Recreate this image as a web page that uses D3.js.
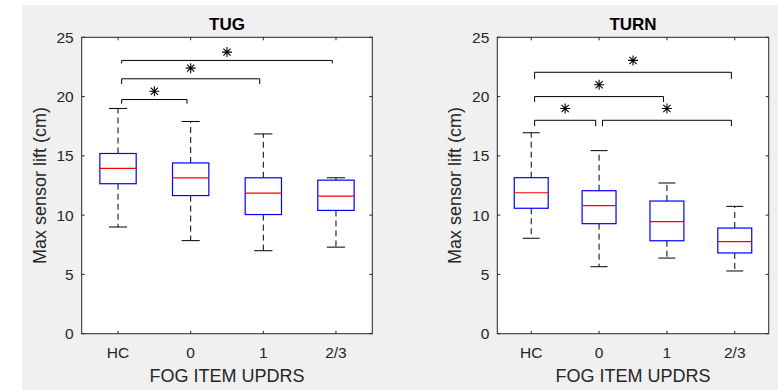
<!DOCTYPE html>
<html>
<head>
<meta charset="utf-8">
<script src="https://cdn.jsdelivr.net/npm/d3@7"></script>
<style>
	body { margin: 0; background: #fff; }
	svg { display: block; font-family: "Liberation Sans", Arial, sans-serif; }
</style>
</head>
<body>
<div id="chart"></div>
<script>

// categories and tick labels
var categories = ["HC", "0", "1", "2/3"];
var yTicks = [0, 5, 10, 15, 20, 25];

// TUG boxes
var tugLow = [9.0, 7.85, 7.0, 7.3];
var tugQ1 = [12.65, 11.65, 10.05, 10.4];
var tugMedian = [13.95, 13.15, 11.85, 11.6];
var tugQ3 = [15.2, 14.4, 13.15, 12.95];
var tugHigh = [19.0, 17.9, 16.85, 13.15];

// TUG significance brackets
var tugPairs = [[0, 1], [0, 2], [0, 3]];
var tugBarLevel = [19.75, 21.5, 23.05];
var tugBarEnd = [19.4, 21.05, 22.8];
var tugStarLevel = [20.45, 22.4, 23.75];

// TURN boxes
var turnLow = [8.05, 5.65, 6.38, 5.29];
var turnQ1 = [10.58, 9.28, 7.84, 6.81];
var turnMedian = [11.89, 10.8, 9.45, 7.76];
var turnQ3 = [13.16, 12.06, 11.19, 8.91];
var turnHigh = [16.95, 15.44, 12.71, 10.74];

// TURN significance brackets
var turnPairs = [[0, 3], [0, 2], [0, 1], [1, 3]];
var turnBarLevel = [22.05, 20.0, 18.0, 18.0];
var turnBarEnd = [21.5, 19.55, 17.5, 17.5];
var turnStarLevel = [23.05, 21.0, 19.0, 19.0];

const width = 778;
const height = 390;
const textColor = "#262626";

const svg = d3.select("#chart")
	.append("svg")
		.attr("width", width)
		.attr("height", height);

// grey figure background
svg.append("rect")
	.attr("x", 22)
	.attr("y", 5)
	.attr("width", width - 22)
	.attr("height", height - 5)
	.attr("fill", "#f0f0f0");

function drawPanel(opt){
	const top = 37.3, bottom = 333.7;
	const left = opt.left, right = opt.right;

	const xScale = d3.scaleLinear().domain([0.5, 4.5]).range([left, right]);
	const yScale = d3.scaleLinear().domain([0, 25]).range([bottom, top]);
	const g = svg.append("g");

	// plot area
	g.append("rect")
		.attr("x", left).attr("y", top)
		.attr("width", right - left).attr("height", bottom - top)
		.attr("fill", "#fff");

	// boxes
	const rows = categories.map(function(c, i){
		return {pos: i + 1, low: opt.low[i], q1: opt.q1[i], med: opt.median[i], q3: opt.q3[i], high: opt.high[i]};
	});
	const boxes = g.selectAll(".box").data(rows).enter().append("g");
	const halfBox = 0.25, halfCap = 0.125;

	// whiskers (dashed)
	boxes.append("line")
		.attr("x1", d => xScale(d.pos)).attr("x2", d => xScale(d.pos))
		.attr("y1", d => yScale(d.q3)).attr("y2", d => yScale(d.high))
		.attr("stroke", "#000").attr("stroke-dasharray", "6,4");
	boxes.append("line")
		.attr("x1", d => xScale(d.pos)).attr("x2", d => xScale(d.pos))
		.attr("y1", d => yScale(d.q1)).attr("y2", d => yScale(d.low))
		.attr("stroke", "#000").attr("stroke-dasharray", "6,4");
	// caps
	boxes.append("line")
		.attr("x1", d => xScale(d.pos - halfCap)).attr("x2", d => xScale(d.pos + halfCap))
		.attr("y1", d => yScale(d.high)).attr("y2", d => yScale(d.high))
		.attr("stroke", "#000");
	boxes.append("line")
		.attr("x1", d => xScale(d.pos - halfCap)).attr("x2", d => xScale(d.pos + halfCap))
		.attr("y1", d => yScale(d.low)).attr("y2", d => yScale(d.low))
		.attr("stroke", "#000");
	// box
	boxes.append("rect")
		.attr("x", d => xScale(d.pos - halfBox))
		.attr("y", d => yScale(d.q3))
		.attr("width", d => xScale(d.pos + halfBox) - xScale(d.pos - halfBox))
		.attr("height", d => yScale(d.q1) - yScale(d.q3))
		.attr("fill", "none").attr("stroke", "#0000ff").attr("stroke-width", 1.2);
	// median
	boxes.append("line")
		.attr("x1", d => xScale(d.pos - halfBox)).attr("x2", d => xScale(d.pos + halfBox))
		.attr("y1", d => yScale(d.med)).attr("y2", d => yScale(d.med))
		.attr("stroke", "#ff0000").attr("stroke-width", 1.2);

	// significance brackets
	const inset = 0.05;
	opt.pairs.forEach(function(p, i){
		const xa = xScale(p[0] + 1 + inset), xb = xScale(p[1] + 1 - inset);
		const yBar = yScale(opt.barLevel[i]), yEnd = yScale(opt.barEnd[i]);
		g.append("path")
			.attr("d", "M" + xa + "," + yEnd + "V" + yBar + "H" + xb + "V" + yEnd)
			.attr("fill", "none").attr("stroke", "#000").attr("stroke-width", 1);
		// asterisk marker
		const cx = (xa + xb) / 2, cy = yScale(opt.starLevel[i]);
		const r = 5, d = 3.6;
		g.append("path")
			.attr("d", "M" + (cx - r) + "," + cy + "H" + (cx + r) +
				"M" + cx + "," + (cy - r) + "V" + (cy + r) +
				"M" + (cx - d) + "," + (cy - d) + "L" + (cx + d) + "," + (cy + d) +
				"M" + (cx - d) + "," + (cy + d) + "L" + (cx + d) + "," + (cy - d))
			.attr("stroke", "#000").attr("stroke-width", 1.1).attr("fill", "none");
	});

	// axes frame
	g.append("rect")
		.attr("x", left).attr("y", top)
		.attr("width", right - left).attr("height", bottom - top)
		.attr("fill", "none").attr("stroke", textColor).attr("stroke-width", 1);

	// ticks (inward, both sides)
	const tl = 3;
	yTicks.forEach(function(t){
		const y = yScale(t);
		g.append("line").attr("x1", left).attr("x2", left + tl).attr("y1", y).attr("y2", y).attr("stroke", textColor);
		g.append("line").attr("x1", right).attr("x2", right - tl).attr("y1", y).attr("y2", y).attr("stroke", textColor);
		g.append("text")
			.attr("x", left - 8).attr("y", y).attr("dy", "0.36em")
			.attr("text-anchor", "end")
			.attr("font-size", "15.5px").attr("fill", textColor)
			.text(t);
	});
	categories.forEach(function(c, i){
		const x = xScale(i + 1);
		g.append("line").attr("x1", x).attr("x2", x).attr("y1", bottom).attr("y2", bottom - tl).attr("stroke", textColor);
		g.append("line").attr("x1", x).attr("x2", x).attr("y1", top).attr("y2", top + tl).attr("stroke", textColor);
		g.append("text")
			.attr("x", x).attr("y", 357.7)
			.attr("text-anchor", "middle")
			.attr("font-size", "15.5px").attr("fill", textColor)
			.text(c);
	});

	// title
	g.append("text")
		.attr("x", (left + right) / 2).attr("y", 29.5)
		.attr("text-anchor", "middle")
		.attr("font-size", "17px").attr("font-weight", "bold").attr("fill", "#000")
		.text(opt.title);

	// x label
	g.append("text")
		.attr("x", (left + right) / 2).attr("y", 381.5)
		.attr("text-anchor", "middle")
		.attr("font-size", "18px").attr("fill", textColor)
		.text("FOG ITEM UPDRS");

	// y label
	g.append("text")
		.attr("transform", "translate(" + opt.yLabelX + "," + (top + bottom) / 2 + ") rotate(-90)")
		.attr("dy", "0.36em")
		.attr("text-anchor", "middle")
		.attr("font-size", "18px").attr("fill", textColor)
		.text("Max sensor lift (cm)");
}

drawPanel({
	title: "TUG", left: 81.7, right: 372.3, yLabelX: 40,
	low: tugLow, q1: tugQ1, median: tugMedian, q3: tugQ3, high: tugHigh,
	pairs: tugPairs, barLevel: tugBarLevel, barEnd: tugBarEnd, starLevel: tugStarLevel
});
drawPanel({
	title: "TURN", left: 497.3, right: 768.7, yLabelX: 455,
	low: turnLow, q1: turnQ1, median: turnMedian, q3: turnQ3, high: turnHigh,
	pairs: turnPairs, barLevel: turnBarLevel, barEnd: turnBarEnd, starLevel: turnStarLevel
});
</script>
</body>
</html>
